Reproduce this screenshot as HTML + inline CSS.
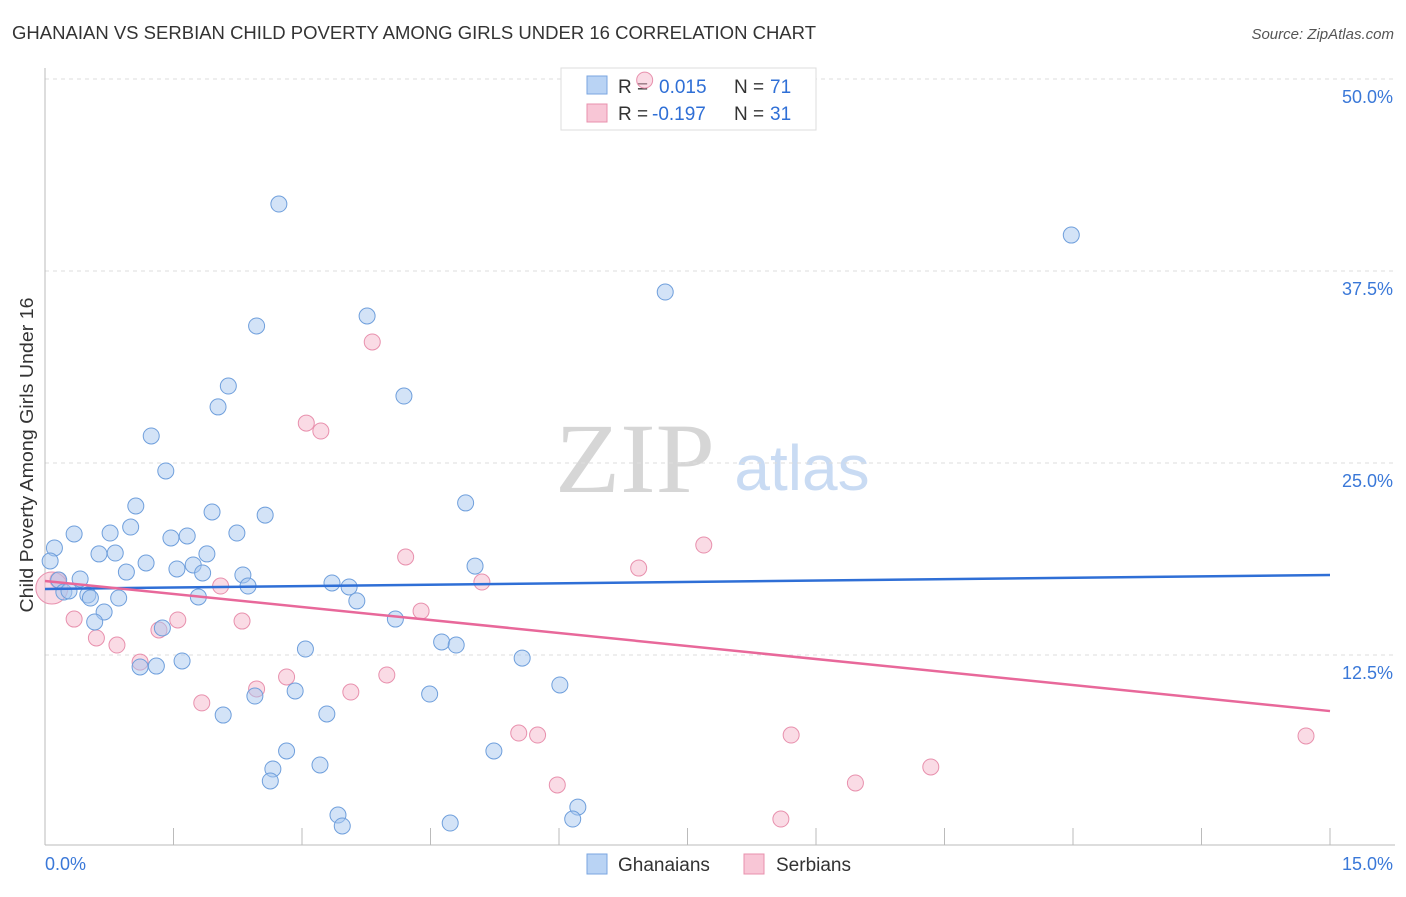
<!DOCTYPE html>
<html><head><meta charset="utf-8">
<style>
body{margin:0;background:#fff;}
</style></head>
<body>
<svg id="chart" width="1406" height="892" xmlns="http://www.w3.org/2000/svg" style="font-family:'Liberation Sans',sans-serif">
<text x="12" y="39" font-size="18" fill="#333" textLength="804" lengthAdjust="spacingAndGlyphs">GHANAIAN VS SERBIAN CHILD POVERTY AMONG GIRLS UNDER 16 CORRELATION CHART</text>
<text x="1394" y="39" font-size="15" fill="#555" font-style="italic" text-anchor="end">Source: ZipAtlas.com</text>
<text transform="translate(33,455) rotate(-90)" font-size="18" fill="#333" text-anchor="middle" textLength="315" lengthAdjust="spacingAndGlyphs">Child Poverty Among Girls Under 16</text>
<g>
<text x="635" y="492" style="font-family:'Liberation Serif',serif;font-size:100px" fill="#d6d6d6" text-anchor="middle" textLength="160" lengthAdjust="spacingAndGlyphs">ZIP</text>
<text x="802" y="490" style="font-size:64px" fill="#c9dbf3" text-anchor="middle">atlas</text>
</g>
<g id="grid"></g><g id="axes"></g>
<g>
<rect x="561" y="68" width="255" height="62" fill="#fff" stroke="#ddd"/>
<rect x="587" y="76" width="20" height="18" fill="#b9d3f4" stroke="#7aa6e0"/>
<text x="618" y="93" font-size="19" fill="#333">R = </text><text x="659" y="93" font-size="19" fill="#2f6fd6">0.015</text>
<text x="734" y="93" font-size="19" fill="#333">N = </text><text x="770" y="93" font-size="19" fill="#2f6fd6">71</text>
<rect x="587" y="104" width="20" height="18" fill="#f8c6d6" stroke="#e890ad"/>
<text x="618" y="120" font-size="19" fill="#333">R = </text><text x="652" y="120" font-size="19" fill="#2f6fd6">-0.197</text>
<text x="734" y="120" font-size="19" fill="#333">N = </text><text x="770" y="120" font-size="19" fill="#2f6fd6">31</text>
</g>
<g id="marks"></g>
<g>
<rect x="587" y="854" width="20" height="20" fill="#b9d3f4" stroke="#7aa6e0"/>
<text x="618" y="871" font-size="19" fill="#333">Ghanaians</text>
<rect x="744" y="854" width="20" height="20" fill="#f8c6d6" stroke="#e890ad"/>
<text x="776" y="871" font-size="19" fill="#333">Serbians</text>
</g>
</svg>
<script>
const yTicks=[12.5,25,37.5,50];
const yTickLabels=["12.5%","25.0%","37.5%","50.0%"];
const xTickLabels=["0.0%","15.0%"];
const blueX=[2.73,11.98,7.24,2.47,3.76,2.14,4.19,2.02,1.24,1.41,4.91,1.06,1.95,2.57,1.00,0.34,0.76,2.24,1.66,1.47,0.11,0.63,0.82,1.89,0.06,5.02,1.18,1.73,1.54,0.95,1.84,2.31,0.16,0.41,3.35,3.55,2.37,0.22,0.28,0.50,0.53,1.79,0.86,3.64,0.69,4.09,0.58,1.37,4.63,4.80,3.04,5.57,1.60,1.11,1.30,6.01,2.92,4.49,2.45,2.08,3.29,2.82,5.24,3.21,2.66,2.63,6.22,3.42,6.16,3.47,4.73];
const blueY=[41.86,39.84,36.13,33.92,34.57,30.01,29.36,28.65,26.76,24.48,22.40,22.20,21.81,21.61,20.83,20.38,20.44,20.44,20.25,20.12,19.47,19.08,19.14,19.08,18.62,18.29,18.49,18.36,18.10,17.90,17.84,17.71,17.38,17.45,17.19,16.93,16.99,16.60,16.67,16.41,16.21,16.28,16.21,16.02,15.30,14.84,14.65,14.26,13.35,13.15,12.89,12.30,12.11,11.72,11.78,10.55,10.16,9.96,9.83,8.59,8.66,6.25,6.25,5.34,5.08,4.30,2.60,2.08,1.82,1.37,1.56];
const pinkX=[7.00,3.82,3.05,3.22,4.21,7.69,6.93,5.10,0.15,4.39,2.05,0.34,1.55,2.30,0.60,1.33,0.84,1.11,2.82,3.99,2.47,3.57,1.83,5.53,5.75,8.71,14.72,10.34,5.98,9.46,8.59,0.08];
const pinkY=[49.93,32.88,27.60,27.08,18.88,19.66,18.16,17.25,17.38,15.36,16.99,14.84,14.78,14.71,13.61,14.13,13.15,12.04,11.07,11.20,10.29,10.09,9.38,7.42,7.29,7.29,7.23,5.21,4.04,4.17,1.82,16.86];
const blueTrend=[16.80,17.71];
const pinkTrend=[17.32,8.85];
const NS="http://www.w3.org/2000/svg";
const X0=45,X1=1330,Y0=847,PXPER=192/12.5;
function sx(v){return X0+(v/15)*(X1-X0);}
function sy(v){return Y0-v*PXPER;}
function mk(tag,attrs,parent){const e=document.createElementNS(NS,tag);for(const k in attrs)e.setAttribute(k,attrs[k]);parent.appendChild(e);return e;}
const grid=document.getElementById('grid'),axes=document.getElementById('axes'),marks=document.getElementById('marks');
yTicks.forEach((t,i)=>{
 const l=mk('line',{x1:45,x2:1395,y1:sy(t),y2:sy(t),stroke:'#ddd','stroke-dasharray':'4,4'},grid);
 
 
 const tx=mk('text',{x:1393,y:sy(t)+24,'font-size':18,fill:'#3a78d8','text-anchor':'end'},axes);
 tx.textContent=yTickLabels[i];
 
 
});
const la=mk('line',{x1:45,x2:45,y1:68,y2:845,stroke:'#bbb'},axes);


const lb=mk('line',{x1:45,x2:1395,y1:845,y2:845,stroke:'#bbb'},axes);


for(let i=0;i<=10;i++){
 const x=sx(i*1.5);
 const t=mk('line',{x1:x,x2:x,y1:828,y2:845,stroke:'#bbb'},axes);
 
 
}
[[0,45,'start'],[1,1393,'end']].forEach(([i,x,a])=>{
 const t=mk('text',{x:x,y:870,'font-size':18,fill:'#3a78d8','text-anchor':a},axes);
 t.textContent=xTickLabels[i];
 
 
});
pinkX.forEach((v,i)=>{
 const big=i===pinkX.length-1;
 const c=mk('circle',{cx:sx(v),cy:sy(pinkY[i]),r:big?16:8,fill:'#f5b8cc','fill-opacity':0.5,stroke:'#e890ad','stroke-width':1},marks);
 
 
});
blueX.forEach((v,i)=>{
 const c=mk('circle',{cx:sx(v),cy:sy(blueY[i]),r:8,fill:'#a8c8f0','fill-opacity':0.5,stroke:'#6f9fdc','stroke-width':1},marks);
 
 
});
const bt=mk('line',{x1:sx(0),y1:sy(blueTrend[0]),x2:sx(15),y2:sy(blueTrend[1]),stroke:'#2f6fd6','stroke-width':2.5},marks);


const pt=mk('line',{x1:sx(0),y1:sy(pinkTrend[0]),x2:sx(15),y2:sy(pinkTrend[1]),stroke:'#e8689a','stroke-width':2.5},marks);


</script>
</body></html>
